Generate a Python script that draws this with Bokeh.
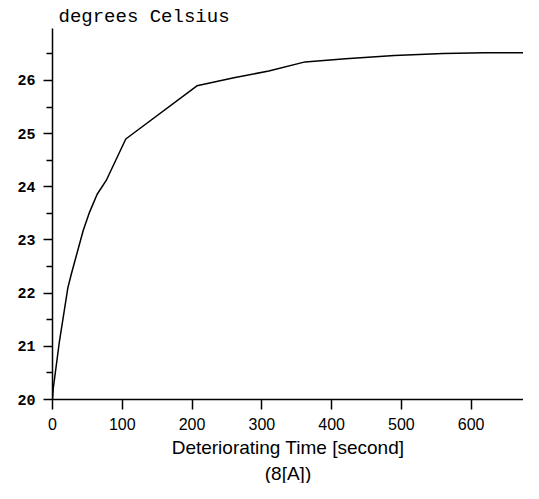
from bokeh.plotting import figure
from bokeh.models import Range1d, FixedTicker, Title
from bokeh.embed import file_html
from bokeh.resources import INLINE

# Data
time_s = [0, 1, 3, 10, 22, 27, 44, 53, 64, 77, 105, 207, 260, 310, 362, 420, 490, 560, 620, 700]
temp_c = [20.0, 20.2, 20.4, 21.1, 22.1, 22.36, 23.18, 23.52, 23.86, 24.12, 24.9, 25.9, 26.05,
          26.18, 26.35, 26.41, 26.47, 26.51, 26.52, 26.52]

x_ticks = [0, 100, 200, 300, 400, 500, 600]
y_ticks = [20, 21, 22, 23, 24, 25, 26]
y_minor = [20.5, 21.5, 22.5, 23.5, 24.5, 25.5, 26.5]

p = figure(width=523, height=483, output_backend="svg", toolbar_location=None,
           x_range=Range1d(0, 675), y_range=Range1d(20, 26.978),
           min_border_left=52, min_border_right=0, min_border_top=28, min_border_bottom=84)
p.background_fill_color = "white"
p.border_fill_color = "white"
p.outline_line_color = None
p.grid.grid_line_color = None

p.title = Title(text="degrees Celsius", align="left", offset=6,
                text_font="Liberation Mono", text_font_size="19px",
                text_font_style="normal", text_color="black", standoff=2)

p.line(time_s, temp_c, line_color="black", line_width=1.5)

# X axis
xa = p.xaxis[0]
xa.ticker = FixedTicker(ticks=x_ticks)
xa.axis_line_color = "black"
xa.axis_line_width = 1.5
xa.major_tick_line_color = "black"
xa.major_tick_line_width = 1.5
xa.major_tick_out = 10
xa.major_tick_in = 0
xa.minor_tick_line_color = None
xa.major_label_text_font = "Liberation Sans"
xa.major_label_text_font_size = "16px"
xa.major_label_text_color = "black"
xa.major_label_standoff = 8
xa.axis_label = "Deteriorating Time [second]"
xa.axis_label_text_font = "Liberation Sans"
xa.axis_label_text_font_size = "19px"
xa.axis_label_text_font_style = "normal"
xa.axis_label_text_color = "black"
xa.axis_label_standoff = 4

# Y axis
ya = p.yaxis[0]
ya.ticker = FixedTicker(ticks=y_ticks, minor_ticks=y_minor)
ya.axis_line_color = "black"
ya.axis_line_width = 1.5
ya.major_tick_line_color = "black"
ya.major_tick_line_width = 1.5
ya.major_tick_out = 9
ya.major_tick_in = 0
ya.minor_tick_line_color = "black"
ya.minor_tick_line_width = 1.5
ya.minor_tick_out = 6
ya.minor_tick_in = 0
ya.major_label_text_font = "Liberation Mono"
ya.major_label_text_font_size = "15px"
ya.major_label_text_font_style = "bold"
ya.major_label_text_color = "black"
ya.major_label_standoff = 8

p.add_layout(Title(text="(8[A])", align="center", text_font="Liberation Sans",
                   text_font_size="19px", text_font_style="normal", text_color="black",
                   standoff=0), "below")

open("out.html", "w").write(file_html(p, INLINE))
